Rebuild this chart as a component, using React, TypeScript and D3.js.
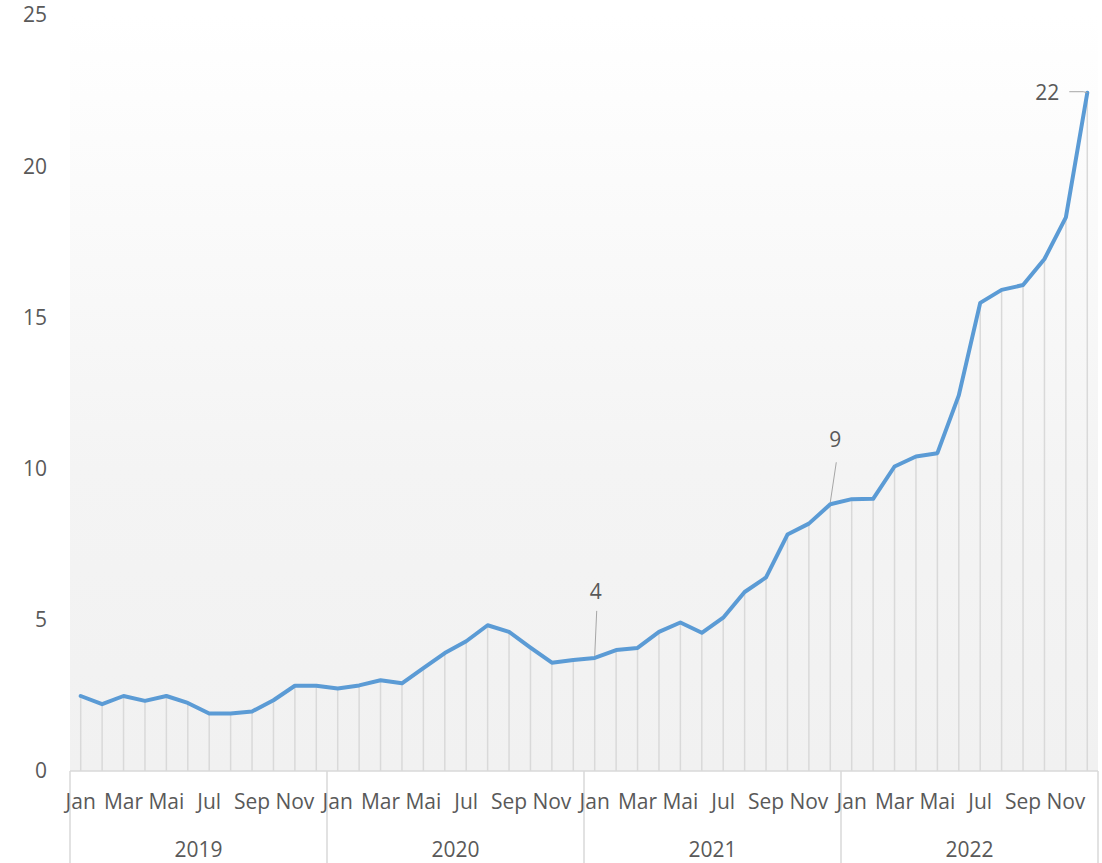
import React from "react";
import * as d3 from "d3";

const years = ["2019", "2020", "2021", "2022"];
const months = ["Jan", "Feb", "Mar", "Apr", "Mai", "Jun", "Jul", "Aug", "Sep", "Okt", "Nov", "Dez"];
const shownMonths = ["Jan", "Mar", "Mai", "Jul", "Sep", "Nov"];
const values2019 = [2.48, 2.21, 2.48, 2.32, 2.48, 2.25, 1.9, 1.9, 1.97, 2.34, 2.82, 2.82];
const values2020 = [2.73, 2.83, 3.0, 2.9, 3.4, 3.9, 4.29, 4.82, 4.6, 4.08, 3.58, 3.67];
const values2021 = [3.74, 4.0, 4.07, 4.6, 4.91, 4.57, 5.07, 5.92, 6.4, 7.82, 8.18, 8.82];
const values2022 = [8.99, 9.0, 10.07, 10.4, 10.51, 12.42, 15.48, 15.91, 16.07, 16.93, 18.31, 22.43];
const yTicks = [0, 5, 10, 15, 20, 25];
// labelled points: index, label text
const labelIdx = [24, 35, 47];
const labelText = ["4", "9", "22"];

const W = 1102;
const H = 863;
const FONT = "'Open Sans', sans-serif";
const TXT = "#595959";
const FS = 21;

export default function App() {
  const values = [...values2019, ...values2020, ...values2021, ...values2022];
  const cats = values.map((_, i) => `${years[Math.floor(i / 12)]}-${months[i % 12]}`);
  const x = d3.scaleBand<string>().domain(cats).range([70, 1098]);
  const y = d3.scaleLinear().domain([0, 25]).range([771, 15]);
  const cx = (i: number) => (x(cats[i]) as number) + x.bandwidth() / 2;
  const line = d3.line<number>().x((_, i) => cx(i)).y((d) => y(d));

  const yearEdges = d3.range(0, years.length + 1).map((k) => (k < years.length ? (x(cats[k * 12]) as number) : 1098));

  // label offsets (relative to point): [dx, dy] for text, leader start
  const labelPos: [number, number, number, number][] = [
    [1, -66, 2, -47],
    [5, -65, 6, -42],
    [-40, 0, -18, -1],
  ];

  return (
    <svg width={W} height={H} style={{ position: "absolute", left: 0, top: 0, background: "#fff" }} fontFamily={FONT}>
      <defs>
        <linearGradient id="bg" x1="0" y1="0" x2="0" y2="1">
          <stop offset="0%" stopColor="#ffffff" />
          <stop offset="60%" stopColor="#f4f4f4" />
          <stop offset="100%" stopColor="#f1f1f1" />
        </linearGradient>
      </defs>
      <rect x={70} y={y(25)} width={1098 - 70} height={y(0) - y(25)} fill="url(#bg)" />
      {/* drop lines */}
      {values.map((v, i) => (
        <line key={"d" + i} x1={cx(i)} x2={cx(i)} y1={y(v)} y2={y(0)} stroke="#d9d9d9" strokeWidth={1.5} />
      ))}
      {/* baseline */}
      <line x1={70} x2={1098} y1={y(0)} y2={y(0)} stroke="#d9d9d9" strokeWidth={1.5} />
      {yearEdges.map((ex, k) => (
        <line key={"ye" + k} x1={ex} x2={ex} y1={y(0)} y2={H} stroke="#d9d9d9" strokeWidth={1.5} />
      ))}
      {/* y tick labels */}
      {yTicks.map((t) => (
        <text key={"yt" + t} x={47} y={y(t)} dy="0.35em" textAnchor="end" fontSize={FS} fill={TXT}>
          {t}
        </text>
      ))}
      {/* month labels */}
      {cats.map((c, i) =>
        shownMonths.includes(months[i % 12]) ? (
          <text key={"m" + i} x={cx(i)} y={809} textAnchor="middle" fontSize={FS} fill={TXT}>
            {months[i % 12]}
          </text>
        ) : null
      )}
      {/* year labels */}
      {years.map((yr, k) => (
        <text key={"yr" + yr} x={(yearEdges[k] + yearEdges[k + 1]) / 2} y={857} textAnchor="middle" fontSize={FS} fill={TXT}>
          {yr}
        </text>
      ))}
      {/* line */}
      <path d={line(values) as string} fill="none" stroke="#5b9bd5" strokeWidth={4} strokeLinejoin="round" strokeLinecap="round" />
      {/* data labels */}
      {labelIdx.map((idx, k) => {
        const px = cx(idx);
        const py = y(values[idx]);
        const [tdx, tdy, ldx, ldy] = labelPos[k];
        return (
          <g key={"lb" + k}>
            {k < 2 ? (
              <line x1={px + ldx} y1={py + ldy} x2={px} y2={py - 2} stroke="#a6a6a6" strokeWidth={1} />
            ) : (
              <polyline points={`${px + ldx},${py + ldy} ${px - 4},${py + ldy} ${px},${py}`} fill="none" stroke="#a6a6a6" strokeWidth={1} />
            )}
            <text x={px + tdx} y={py + tdy} dy="0.35em" textAnchor="middle" fontSize={FS} fill={TXT}>
              {labelText[k]}
            </text>
          </g>
        );
      })}
    </svg>
  );
}
